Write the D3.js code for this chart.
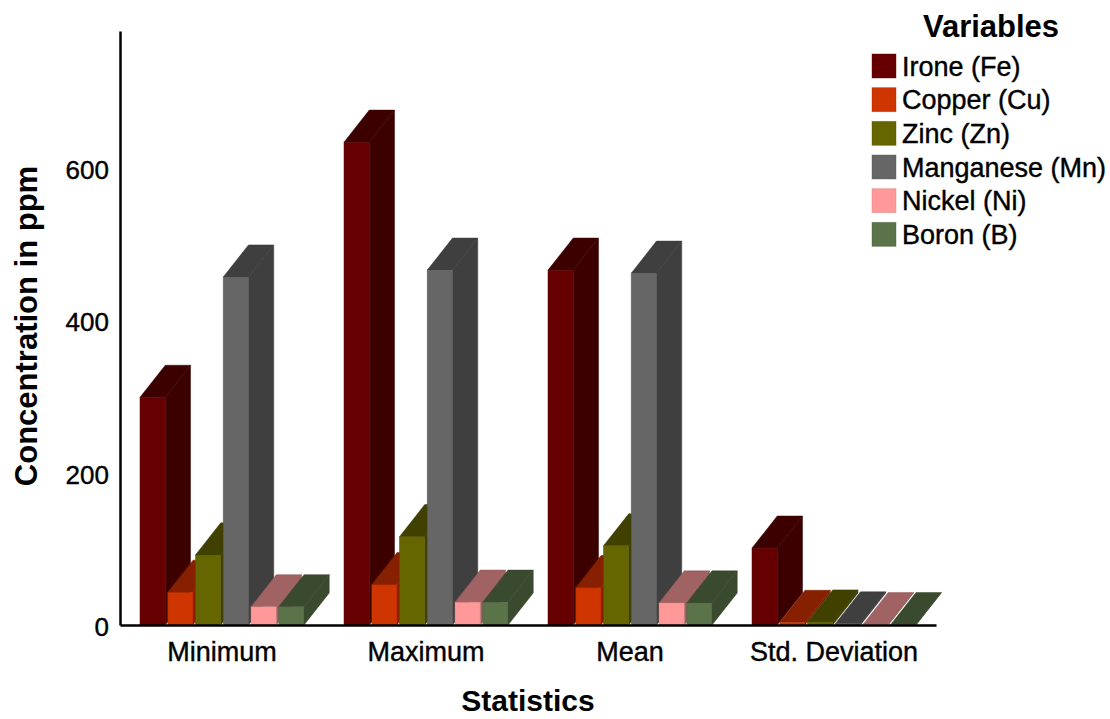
<!DOCTYPE html>
<html>
<head>
<meta charset="utf-8">
<script src="https://cdn.jsdelivr.net/npm/d3@7"></script>
<style>
  html, body { margin: 0; padding: 0; background: #ffffff; }
  svg { display: block; font-family: "Liberation Sans", Arial, sans-serif; }
</style>
</head>
<body>
<svg id="chart" width="1110" height="719"></svg>
<script>
// Statistics of heavy-metal concentrations (ppm)
const categories = ["Minimum", "Maximum", "Mean", "Std. Deviation"];
const series = ["Irone (Fe)", "Copper (Cu)", "Zinc (Zn)", "Manganese (Mn)", "Nickel (Ni)", "Boron (B)"];
const ironFe      = [299, 634, 466, 101];
const copperCu    = [43, 53, 49, 3.5];
const zincZn      = [92, 116, 104, 4];
const manganeseMn = [457, 466, 462, 1.5];
const nickelNi    = [24, 30, 29, 0.6];
const boronB      = [24, 30, 29, 0.6];
const yTicks = [0, 200, 400, 600];

const seriesValues = [ironFe, copperCu, zincZn, manganeseMn, nickelNi, boronB];
const frontColors = ["#660000", "#cf3500", "#666600", "#666666", "#ff9999", "#5b7349"];
const shadeColors = ["#3d0000", "#862000", "#404000", "#3f3f3f", "#a06262", "#3a4a2e"];

const svg = d3.select("#chart");

const x0 = d3.scaleBand().domain(categories).range([120, 936]).paddingInner(0).paddingOuter(0);
const x1 = d3.scaleBand().domain(series).range([20, 184]).paddingInner(0.09).paddingOuter(0);
const y = d3.scaleLinear().domain([0, 780]).range([625, 31]);

const bw = x1.bandwidth();
const dx = bw;          // depth offset to the right
const dy = -bw * 1.27;  // depth offset upwards

// 3D bars: front face, side face and top face per bar, drawn left to right
const bars = [];
categories.forEach((cat, ci) => {
  series.forEach((s, si) => {
    bars.push({ cat, s, si, v: seriesValues[si][ci] });
  });
});

const gBars = svg.append("g");
const barG = gBars.selectAll("g.bar").data(bars).join("g").attr("class", "bar");

barG.each(function (d) {
  const g = d3.select(this);
  const xl = x0(d.cat) + x1(d.s);
  const xr = xl + bw;
  const yt = y(d.v);
  const yb = y(0);
  const shade = shadeColors[d.si];
  const front = frontColors[d.si];
  const edge = d3.color(shade).darker(0.4).formatHex();
  // side face
  g.append("path")
    .attr("d", `M${xr},${yt}L${xr + dx},${yt + dy}L${xr + dx},${yb + dy}L${xr},${yb}Z`)
    .attr("fill", shade).attr("stroke", edge).attr("stroke-width", 0.8).attr("stroke-opacity", 0.6);
  // top face
  g.append("path")
    .attr("d", `M${xl},${yt}L${xl + dx},${yt + dy}L${xr + dx},${yt + dy}L${xr},${yt}Z`)
    .attr("fill", shade).attr("stroke", edge).attr("stroke-width", 0.8).attr("stroke-opacity", 0.6);
  // front face
  g.append("rect")
    .attr("x", xl).attr("y", yt).attr("width", bw).attr("height", Math.max(0, yb - yt))
    .attr("fill", front).attr("stroke", d3.color(front).darker(0.6).formatHex())
    .attr("stroke-width", 0.8).attr("stroke-opacity", 0.6);
});

// Regular labels get a hairline stroke for a slightly heavier look
function heavy(sel) {
  sel.attr("fill", "#000").attr("stroke", "#000").attr("stroke-width", 0.4)
     .attr("font-family", "Liberation Sans, Arial, sans-serif");
}

// Y axis
const yAxis = svg.append("g")
  .attr("transform", "translate(120,0)")
  .call(d3.axisLeft(y).tickValues(yTicks).tickSize(0).tickSizeOuter(0).tickPadding(11).tickFormat(d3.format("d")));
yAxis.select(".domain").attr("stroke", "#000").attr("stroke-width", 2.5);
yAxis.selectAll("text").attr("font-size", 26).attr("dy", "0.4em").call(heavy);

// X axis
const xAxis = svg.append("g")
  .attr("transform", "translate(0,625)")
  .call(d3.axisBottom(x0).tickSize(0).tickSizeOuter(0).tickPadding(17));
xAxis.select(".domain").attr("stroke", "#000").attr("stroke-width", 2.5);
xAxis.selectAll("text").attr("font-size", 27).call(heavy);

// Axis titles
svg.append("text")
  .attr("transform", "translate(37,326) rotate(-90)")
  .attr("text-anchor", "middle")
  .attr("font-size", 31).attr("font-weight", "bold")
  .text("Concentration in ppm");

svg.append("text")
  .attr("x", 528).attr("y", 711)
  .attr("text-anchor", "middle")
  .attr("font-size", 30).attr("font-weight", "bold")
  .text("Statistics");

// Legend
const legend = svg.append("g").attr("transform", "translate(872,0)");
legend.append("text")
  .attr("x", 119).attr("y", 37)
  .attr("text-anchor", "middle")
  .attr("font-size", 31).attr("font-weight", "bold")
  .text("Variables");

const ly = d3.scaleBand().domain(series).range([54, 256]).paddingInner(0).paddingOuter(0);
const item = legend.selectAll("g.item").data(series).join("g")
  .attr("class", "item")
  .attr("transform", d => `translate(0,${ly(d)})`);
item.append("rect")
  .attr("width", 24).attr("height", 24)
  .attr("fill", (d, i) => frontColors[i])
  .attr("stroke", (d, i) => d3.color(frontColors[i]).darker(0.5).formatHex())
  .attr("stroke-width", 0.8).attr("stroke-opacity", 0.5);
item.append("text")
  .attr("x", 30).attr("y", 12).attr("dy", "0.36em")
  .attr("font-size", 27)
  .text(d => d)
  .call(heavy);
</script>
</body>
</html>
